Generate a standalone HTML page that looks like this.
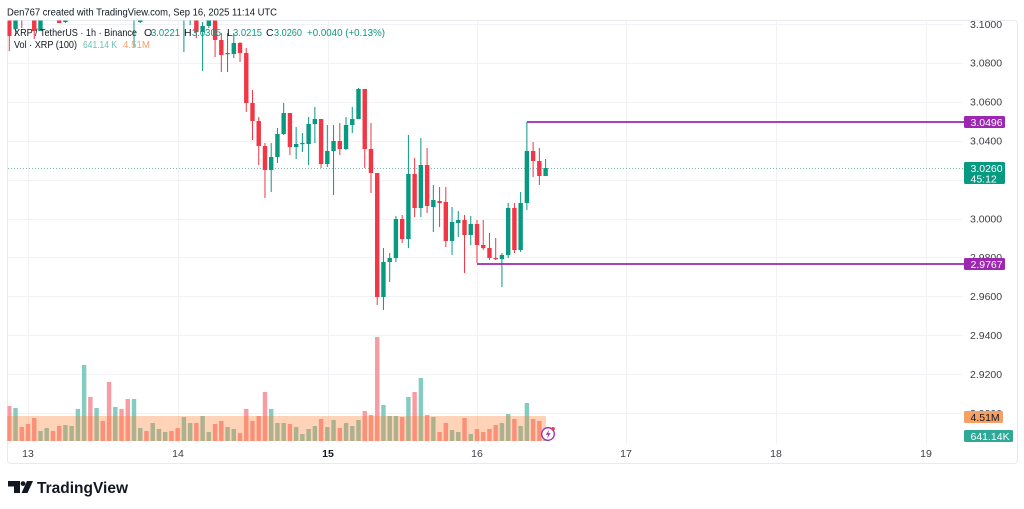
<!DOCTYPE html>
<html><head><meta charset="utf-8">
<style>
html,body{margin:0;padding:0;background:#fff;width:1024px;height:509px;overflow:hidden}
svg{display:block}
text{font-family:"Liberation Sans",Arial,sans-serif}
</style></head>
<body>
<svg id="s" width="1024" height="509" viewBox="0 0 1024 509" xmlns="http://www.w3.org/2000/svg">
<defs><clipPath id="c"><rect x="7.5" y="20.5" width="955" height="424"/></clipPath></defs>
<rect x="0" y="0" width="1024" height="509" fill="#fff"/>
<rect x="7.5" y="20.5" width="1010" height="443" rx="3" fill="none" stroke="#e8eaef"/>
<g id="grid" stroke="#f0f2f6" stroke-width="1"></g>
<g id="vol" clip-path="url(#c)"></g>
<rect x="7" y="416" width="539" height="25" fill="rgb(255,120,40)" fill-opacity="0.33"/>
<line x1="8" x2="964" y1="168.5" y2="168.5" stroke="#7fb8ae" stroke-width="1" stroke-dasharray="1,2"/>
<g id="cand" clip-path="url(#c)"></g>
<line x1="527" x2="964" y1="122" y2="122" stroke="#9c27b0" stroke-width="1.7"/>
<line x1="477" x2="964" y1="264" y2="264" stroke="#9c27b0" stroke-width="1.7"/>
<!-- lightning icon -->
<circle cx="548" cy="434" r="6.3" fill="#fff" stroke="#9c27b0" stroke-width="1.3"/>
<path d="M549.3,429.6 L545.8,434.8 L548.3,434.8 L546.9,438.6 L550.6,433.2 L548.1,433.2 Z" fill="#9c27b0"/>
<circle cx="553" cy="428.8" r="1.8" fill="#f23645"/>
<!-- header -->
<text x="7" y="15.6" font-size="10" fill="#131722" textLength="270" lengthAdjust="spacingAndGlyphs">Den767 created with TradingView.com, Sep 16, 2025 11:14 UTC</text>
<g font-size="10.5">
<text x="14" y="36" fill="#131722" textLength="123" lengthAdjust="spacingAndGlyphs">XRP / TetherUS · 1h · Binance</text>
<text x="144" y="36" fill="#131722">O</text><text x="151" y="36" fill="#089981" textLength="29" lengthAdjust="spacingAndGlyphs">3.0221</text>
<text x="184" y="36" fill="#131722">H</text><text x="192" y="36" fill="#089981" textLength="29" lengthAdjust="spacingAndGlyphs">3.0305</text>
<text x="227" y="36" fill="#131722">L</text><text x="233" y="36" fill="#089981" textLength="29" lengthAdjust="spacingAndGlyphs">3.0215</text>
<text x="266" y="36" fill="#131722">C</text><text x="274" y="36" fill="#089981" textLength="28" lengthAdjust="spacingAndGlyphs">3.0260</text>
<text x="307" y="36" fill="#089981" textLength="78" lengthAdjust="spacingAndGlyphs">+0.0040 (+0.13%)</text>
<text x="14" y="48" fill="#131722" textLength="63" lengthAdjust="spacingAndGlyphs">Vol · XRP (100)</text>
<text x="83" y="48" fill="#6cc1b3" textLength="34" lengthAdjust="spacingAndGlyphs">641.14 K</text>
<text x="123" y="48" fill="#f5a36b" textLength="27" lengthAdjust="spacingAndGlyphs">4.51M</text>
</g>
<g id="axis" font-size="10.5" fill="#3c3f47"></g>
<!-- price boxes -->
<rect x="964" y="116" width="41" height="12" rx="1.5" fill="#9c27b0"/>
<text x="970.5" y="125.8" font-size="10.5" fill="#fff">3.0496</text>
<rect x="964" y="162" width="41" height="22" rx="1.5" fill="#089981"/>
<text x="970.5" y="171.8" font-size="10.5" fill="#fff">3.0260</text>
<text x="970.5" y="182.5" font-size="10.5" fill="#fff">45:12</text>
<rect x="964" y="258" width="41" height="12" rx="1.5" fill="#9c27b0"/>
<text x="970.5" y="267.8" font-size="10.5" fill="#fff">2.9767</text>
<rect x="964" y="411" width="39" height="12" rx="1.5" fill="#f7a064"/>
<text x="970.5" y="420.8" font-size="10.5" fill="#131722">4.51M</text>
<rect x="964" y="430" width="49" height="12" rx="1.5" fill="#2fa898"/>
<text x="970.5" y="439.8" font-size="10.5" fill="#fff">641.14K</text>
<!-- time axis -->
<g font-size="10.5" fill="#3c3f47" text-anchor="middle">
<text x="28" y="457">13</text>
<text x="178" y="457">14</text>
<text x="328" y="457" font-weight="bold" fill="#131722">15</text>
<text x="477" y="457">16</text>
<text x="626" y="457">17</text>
<text x="776" y="457">18</text>
<text x="926" y="457">19</text>
</g>
<!-- logo -->
<path d="M8,481 H20 V493 H14 V486.5 H8 Z" fill="#131722"/>
<circle cx="23" cy="483.6" r="2.4" fill="#131722"/>
<path d="M27,481 H33 L27.5,493 H21.5 Z" fill="#131722"/>
<text x="37" y="493" font-size="16" font-weight="bold" fill="#131722" textLength="91" lengthAdjust="spacingAndGlyphs">TradingView</text>
</svg>
<script>
(function(){
var NS="http://www.w3.org/2000/svg";
var X=function(h){return 28+6.236*h;};
function el(parent,tag,attrs){var e=document.createElementNS(NS,tag);for(var k in attrs)e.setAttribute(k,attrs[k]);parent.appendChild(e);return e;}
// grid
var g=document.getElementById('grid');
for(var k=0;k<=10;k++){var y=Math.round(24+k*38.9)+0.5;el(g,'line',{x1:8,x2:962,y1:y,y2:y});}
[28,178,328,477,626,776,926].forEach(function(x){el(g,'line',{x1:x+0.5,x2:x+0.5,y1:21,y2:444});});
// price axis labels
var ax=document.getElementById('axis');
var labs=["3.1000","3.0800","3.0600","3.0400","3.0200","3.0000","2.9800","2.9600","2.9400","2.9200","2.9000"];
for(var k=0;k<labs.length;k++){
  if(k==4)continue; // 3.0200 hidden? keep grid only
  var t=el(ax,'text',{x:970,y:(24+k*38.9+3.8).toFixed(1)});t.textContent=labs[k];
}
// candles [h,O,H,L,C] in pixel y
var C=[
[-3,5,0,51,36],[-2,29,0,36,10],[-1,10,0,28,14],[0,14,2,18,16],[1,5,0,39,31],[2,31,5,31,12],
[3,12,0,16,6],[4,6,0,17,12],[5,10,2,23,23],[6,22,2,23,10],[7,10,0,15,6],[8,8,-5,14,2],
[9,5,-10,12,-5],[10,-5,-10,10,5],[11,5,-5,12,0],[12,0,-5,10,5],[13,5,-5,15,12],[14,12,0,18,5],
[15,5,0,16,10],[16,10,2,18,14],[17,14,5,47,5],[18,22,5,23,10],[19,10,2,16,14],[20,14,2,18,8],
[21,8,0,14,4],[22,4,0,12,2],[23,2,0,12,8],[24,8,2,16,12],[25,12,2,52,5],[26,15,2,25,8],
[27,8,2,38,32],[28,32,22,71,26],[29,26,10,28,12],[30,12,8,57,40],[31,40,33,72,55],[32,54,33,72,53],
[33,54,33,58,43],[34,43,42,62,53],[35,53,48,112,103],[36,103,90,140,121],[37,121,117,165,146],
[38,146,143,198,170],[39,170,143,192,157],[40,157,128,163,134],[41,134,103,135,113],
[42,113,113,155,147],[43,147,127,159,144],[44,144,133,152,143],[45,144,117,165,124],
[46,124,107,143,119],[47,119,119,168,164],[48,164,125,167,151],[49,151,125,195,141],
[50,141,123,155,149],[51,149,117,150,125],[52,125,107,133,119],[53,119,88,119,89],
[54,89,89,168,149],[55,149,123,193,173],[56,173,173,305,297],[57,297,248,310,262],
[58,262,253,282,258],[59,258,216,262,219],[60,219,215,243,239],[61,239,135,248,174],
[62,174,158,217,208],[63,208,138,217,165],[64,165,148,213,206],[65,207,185,232,200],
[66,201,187,227,203],[67,202,187,247,241],[68,241,207,255,222],[69,223,211,237,220],
[70,220,215,273,235],[71,235,216,245,224],[72,224,220,263,245],[73,245,220,250,248],
[74,248,233,260,258],[75,258,238,260,259],[76,259,253,287,255],[77,255,203,258,208],
[78,208,203,253,250],[79,250,192,252,203],[80,203,122,210,151],[81,151,142,177,161],
[82,161,148,185,176],[83,176,159,176,168]
];
var V=[406,408,427,424,418,431,428,431,426,425,426,409,365,397,408,421,382,407,409,399,399,428,431,423,429,432,431,428,417,423,423,416,432,424,421,427,429,433,409,421,416,392,409,423,423,424,427,434,429,426,419,427,420,428,423,426,420,411,415,337,405,416,416,417,397,392,378,415,417,432,423,430,432,418,434,429,432,429,425,423,414,419,426,403,419,421,436];
var cg=document.getElementById('cand'),vg=document.getElementById('vol');
for(var i=0;i<C.length;i++){
  var d=C[i],h=d[0],o=d[1],hi=d[2],lo=d[3],c=d[4],x=X(h);
  var up=c<=o;var col=up?'#089981':'#f23645';
  el(cg,'rect',{x:(x-0.5).toFixed(2),y:hi,width:1,height:Math.max(lo-hi,1),fill:col});
  var top=Math.min(o,c),bh=Math.max(Math.abs(o-c),1.2);
  el(cg,'rect',{x:(x-2.2).toFixed(2),y:top,width:4.4,height:bh,fill:col});
  var vt=V[i];
  el(vg,'rect',{x:(x-2.2).toFixed(2),y:vt,width:4.4,height:441-vt,fill:up?'#84ccc0':'#f99ba2'});
}
})();
</script>
</body></html>
